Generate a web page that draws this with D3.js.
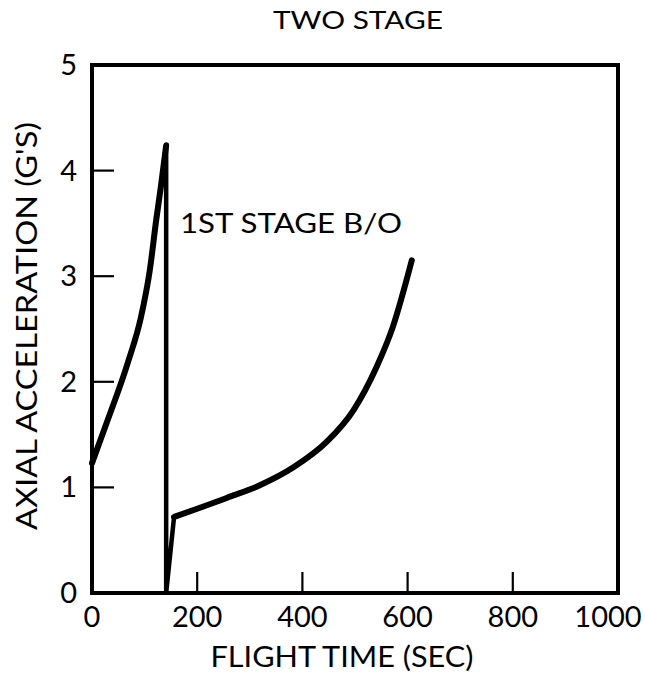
<!DOCTYPE html>
<html>
<head>
<meta charset="utf-8">
<script src="https://cdn.jsdelivr.net/npm/d3@7"></script>
<style>
  body { margin: 0; background: #fff; }
  text { font-family: Lato, 'DejaVu Sans', sans-serif; fill: #000; }
</style>
</head>
<body>
<div id="chart"></div>
<script>
const width = 645;
const height = 686;

// first stage burn (time s, accel g)
const stage1Time = [0, 30, 68, 93, 110, 122, 131, 141];
const stage1Accel = [1.23, 1.64, 2.18, 2.61, 3.06, 3.53, 3.85, 4.24];

// burnout drop and second stage ignition
const dropTime = [141, 141, 156];
const dropAccel = [4.24, 0, 0.72];

// second stage burn
const stage2Time = [156, 256, 319, 383, 446, 497, 541, 572, 608];
const stage2Accel = [0.72, 0.9, 1.02, 1.19, 1.43, 1.73, 2.14, 2.52, 3.15];

const xTicks = [0, 200, 400, 600, 800, 1000];
const yTicks = [0, 1, 2, 3, 4, 5];

const margin = { top: 65, right: 27, bottom: 93, left: 92 };

const svg = d3
  .select('#chart')
  .append('svg')
  .attr('width', width)
  .attr('height', height);

const x = d3.scaleLinear().domain([0, 1000]).range([margin.left, width - margin.right]);
const y = d3.scaleLinear().domain([0, 5]).range([height - margin.bottom, margin.top]);

// inner ticks
svg
  .append('g')
  .selectAll('line')
  .data(xTicks.slice(1, -1))
  .join('line')
  .attr('x1', (d) => x(d))
  .attr('x2', (d) => x(d))
  .attr('y1', y(0))
  .attr('y2', y(0) - 21)
  .attr('stroke', '#000')
  .attr('stroke-width', 2.2);

svg
  .append('g')
  .selectAll('line')
  .data(yTicks.slice(1, -1))
  .join('line')
  .attr('x1', x(0))
  .attr('x2', x(0) + 22)
  .attr('y1', (d) => y(d))
  .attr('y2', (d) => y(d))
  .attr('stroke', '#000')
  .attr('stroke-width', 2.2);

// frame
svg
  .append('rect')
  .attr('x', x(0))
  .attr('y', y(5))
  .attr('width', x(1000) - x(0))
  .attr('height', y(0) - y(5))
  .attr('fill', 'none')
  .attr('stroke', '#000')
  .attr('stroke-width', 4);

// tick labels (last one pulled in so it stays on the page)
svg
  .append('g')
  .selectAll('text')
  .data(xTicks)
  .join('text')
  .attr('x', (d) => x(d) - (d === 1000 ? 10 : 0))
  .attr('y', y(0) + 34)
  .attr('text-anchor', 'middle')
  .style('font-size', '29px')
  .text((d) => d);

svg
  .append('g')
  .selectAll('text')
  .data(yTicks)
  .join('text')
  .attr('x', x(0) - 15)
  .attr('y', (d) => y(d) + 10)
  .attr('text-anchor', 'end')
  .style('font-size', '29px')
  .text((d) => d);

// curves
const line = (xs, ys, curve) =>
  d3
    .line()
    .x((d, i) => x(xs[i]))
    .y((d, i) => y(ys[i]))
    .curve(curve)(xs);

const plot = svg.append('g').attr('fill', 'none').attr('stroke', '#000');

plot
  .append('path')
  .attr('d', line(stage1Time, stage1Accel, d3.curveMonotoneX))
  .attr('stroke-width', 6)
  .attr('stroke-linecap', 'round');
plot
  .append('path')
  .attr('d', line(dropTime, dropAccel, d3.curveLinear))
  .attr('stroke-width', 4.5)
  .attr('stroke-linejoin', 'miter');
plot
  .append('path')
  .attr('d', line(stage2Time, stage2Accel, d3.curveMonotoneX))
  .attr('stroke-width', 6)
  .attr('stroke-linecap', 'round');

// titles
svg
  .append('text')
  .attr('x', 358)
  .attr('y', 29)
  .attr('text-anchor', 'middle')
  .attr('textLength', 170)
  .attr('lengthAdjust', 'spacingAndGlyphs')
  .style('font-size', '25px')
  .text('TWO STAGE');

svg
  .append('text')
  .attr('x', 180)
  .attr('y', 233)
  .attr('textLength', 222)
  .attr('lengthAdjust', 'spacingAndGlyphs')
  .style('font-size', '27px')
  .text('1ST STAGE B/O');

svg
  .append('text')
  .attr('x', 342)
  .attr('y', 667)
  .attr('text-anchor', 'middle')
  .attr('textLength', 263)
  .attr('lengthAdjust', 'spacingAndGlyphs')
  .style('font-size', '28px')
  .text('FLIGHT TIME (SEC)');

svg
  .append('text')
  .attr('transform', `translate(37, 326) rotate(-90)`)
  .attr('text-anchor', 'middle')
  .attr('textLength', 408)
  .attr('lengthAdjust', 'spacingAndGlyphs')
  .style('font-size', '29px')
  .text("AXIAL ACCELERATION (G'S)");
</script>
</body>
</html>
